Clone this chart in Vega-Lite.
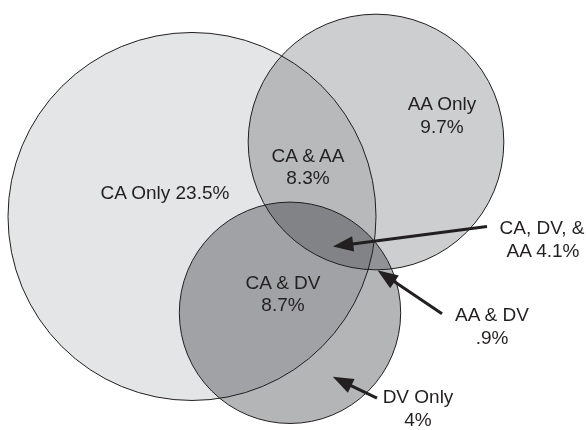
{
  "$schema": "https://vega.github.io/schema/vega-lite/v6.json",
  "width": 586,
  "height": 430,
  "autosize": {"type": "fit", "contains": "padding"},
  "padding": 0,
  "background": "white",
  "config": {"view": {"stroke": null}},
  "datasets": {
    "sets": [
      {"set": "CA", "cx": 192, "cy": 212, "total": 44.6},
      {"set": "AA", "cx": 376, "cy": 287, "total": 23.0},
      {"set": "DV", "cx": 290, "cy": 115, "total": 17.7}
    ],
    "labels": [
      {"lx": 165, "ly": 236, "text": "CA Only 23.5%"},
      {"lx": 442, "ly": 325, "text": "AA Only"},
      {"lx": 442, "ly": 302, "text": "9.7%"},
      {"lx": 308, "ly": 273, "text": "CA & AA"},
      {"lx": 308, "ly": 251, "text": "8.3%"},
      {"lx": 283, "ly": 145, "text": "CA & DV"},
      {"lx": 283, "ly": 123, "text": "8.7%"},
      {"lx": 542, "ly": 200, "text": "CA, DV, &"},
      {"lx": 543, "ly": 177, "text": "AA 4.1%"},
      {"lx": 492, "ly": 113, "text": "AA & DV"},
      {"lx": 492, "ly": 90, "text": ".9%"},
      {"lx": 418, "ly": 30, "text": "DV Only"},
      {"lx": 418, "ly": 7, "text": "4%"}
    ],
    "arrows": [
      {"target": "CA, DV & AA", "ax": 487, "ay": 202, "hx": 343, "hy": 183},
      {"target": "AA & DV", "ax": 442, "ay": 114, "hx": 386, "hy": 152},
      {"target": "DV Only", "ax": 377, "ay": 29, "hx": 342, "hy": 46}
    ]
  },
  "layer": [
    {
      "data": {"name": "sets"},
      "mark": {"type": "point", "shape": "circle", "filled": true, "opacity": 1, "strokeWidth": 0, "blend": "multiply"},
      "encoding": {
        "x": {"field": "cx", "type": "quantitative", "scale": {"domain": [0, 586], "nice": false, "zero": false}, "axis": null},
        "y": {"field": "cy", "type": "quantitative", "scale": {"domain": [0, 430], "nice": false, "zero": false}, "axis": null},
        "size": {"field": "total", "type": "quantitative", "scale": {"type": "pow", "exponent": 1.1, "domain": [0, 44.6], "range": [0, 135424]}, "legend": null},
        "color": {"field": "set", "type": "nominal", "scale": {"domain": ["CA", "AA", "DV"], "range": ["#e4e5e6", "#cdced0", "#b4b5b7"]}, "legend": null}
      }
    },
    {
      "data": {"name": "sets"},
      "mark": {"type": "point", "shape": "circle", "filled": false, "opacity": 1, "color": "#231f20", "strokeWidth": 1},
      "encoding": {
        "x": {"field": "cx", "type": "quantitative", "axis": null},
        "y": {"field": "cy", "type": "quantitative", "axis": null},
        "size": {"field": "total", "type": "quantitative", "scale": {"type": "pow", "exponent": 1.1, "domain": [0, 44.6], "range": [0, 135424]}, "legend": null}
      }
    },
    {
      "data": {"name": "arrows"},
      "mark": {"type": "rule", "color": "#231f20", "strokeWidth": 3},
      "encoding": {
        "x": {"field": "ax", "type": "quantitative", "axis": null},
        "y": {"field": "ay", "type": "quantitative", "axis": null},
        "x2": {"field": "hx"},
        "y2": {"field": "hy"}
      }
    },
    {
      "data": {"name": "arrows"},
      "transform": [
        {"calculate": "atan2(datum.hx - datum.ax, datum.hy - datum.ay) * 180 / PI", "as": "heading"}
      ],
      "mark": {"type": "point", "shape": "M0,-1L0.75,1L-0.75,1Z", "filled": true, "opacity": 1, "color": "#231f20", "size": 420, "strokeWidth": 0},
      "encoding": {
        "x": {"field": "hx", "type": "quantitative", "axis": null},
        "y": {"field": "hy", "type": "quantitative", "axis": null},
        "angle": {"field": "heading", "type": "quantitative", "scale": null}
      }
    },
    {
      "data": {"name": "labels"},
      "mark": {"type": "text", "font": "Liberation Sans", "fontSize": 19, "color": "#231f20", "align": "center", "baseline": "middle"},
      "encoding": {
        "x": {"field": "lx", "type": "quantitative", "axis": null},
        "y": {"field": "ly", "type": "quantitative", "axis": null},
        "text": {"field": "text", "type": "nominal"}
      }
    }
  ]
}
